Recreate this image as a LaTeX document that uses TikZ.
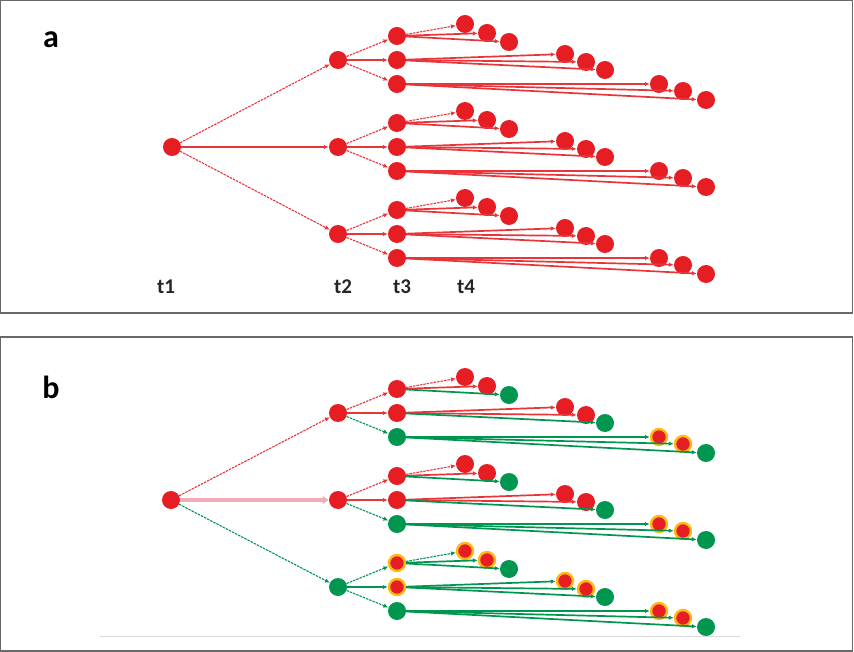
\documentclass[tikz,border=0pt]{standalone}
\usepackage{fontspec}
\setmainfont{Carlito}
\usetikzlibrary{arrows.meta}
\definecolor{nred}{RGB}{230,30,36}
\definecolor{ngreen}{RGB}{0,150,80}
\definecolor{haloc}{RGB}{255,185,20}
\definecolor{pinkl}{RGB}{242,172,182}
\definecolor{framec}{RGB}{105,105,105}
\tikzset{
  nd/.style={circle,inner sep=0pt,minimum size=18pt},
  rn/.style={nd,fill=nred},
  gn/.style={nd,fill=ngreen},
  hn/.style={nd,fill=nred,draw=haloc,line width=2.4pt,minimum size=16pt},
  ed/.style={line width=1.1pt,-{Latex[length=5pt,width=4.5pt]}},
  ch/.style={line width=1.7pt},
  rn-e/.style={ed,draw=nred!90},
  gn-e/.style={ed,draw=ngreen},
  hn-e/.style={ed,draw=ngreen},
  dg/.style={dash pattern=on 2.5pt off 1pt},
  pk-e/.style={line width=4.5pt,draw=pinkl,-{Latex[length=6pt,width=9pt]}},
  frame/.style={draw=framec,line width=1.4pt},
  plabel/.style={font=\bfseries\fontsize{32}{36}\selectfont,anchor=base},
  tlabel/.style={font=\bfseries\fontsize{21}{24}\selectfont,anchor=base,text=black!85},
}
% #1 name, #2 Y, #3 t2 style, #4-#6 t3 styles, #7-#9 styles of first two nodes of each chain
\newcommand\mkgroup[9]{%
  \node[#3] (#1) at (338,#2) {};
  \node[#4] (#1-1) at (397,#2-24) {};
  \node[#5] (#1-2) at (397,#2) {};
  \node[#6] (#1-3) at (397,#2+24) {};
  % chain 1
  \node[#7] (#1-1-1) at (465,#2-36) {};
  \node[#7] (#1-1-2) at (487,#2-27) {};
  \node[#6] (#1-1-3) at (509,#2-18) {};
  % chain 2
  \node[#8] (#1-2-1) at (565,#2-6) {};
  \node[#8] (#1-2-2) at (586,#2+2) {};
  \node[#6] (#1-2-3) at (605,#2+10) {};
  % chain 3
  \node[#9] (#1-3-1) at (659,#2+24) {};
  \node[#9] (#1-3-2) at (683,#2+31) {};
  \node[#6] (#1-3-3) at (706,#2+40) {};
  % t2 -> t3
  \draw[#4-e,dg] (#1) -- (#1-1);
  \draw[#5-e] (#1) -- (#1-2);
  \draw[#6-e,dg] (#1) -- (#1-3);
  % t3 -> chains
  \draw[#7-e,dg] (#1-1) -- (#1-1-1);
  \draw[#7-e,ch] (#1-1) -- (#1-1-2);
  \draw[#6-e,ch] (#1-1) -- (#1-1-3);
  \draw[#8-e,ch] (#1-2) -- (#1-2-1);
  \draw[#8-e,ch] (#1-2) -- (#1-2-2);
  \draw[#6-e,ch] (#1-2) -- (#1-2-3);
  \draw[#9-e,ch] (#1-3) -- (#1-3-1);
  \draw[#9-e,ch] (#1-3) -- (#1-3-2);
  \draw[#6-e,ch] (#1-3) -- (#1-3-3);
}
\begin{document}
\begin{tikzpicture}[x=1pt,y=-1pt]
\useasboundingbox (0,0) rectangle (854,652);
\draw[frame] (0.7,0.7) rectangle (852.5,313);
\draw[frame] (0.7,337) rectangle (852.5,650.8);
\node[plabel] (la) at (51,48) {a};
\node[plabel] (lb) at (51,398) {b};
\node[tlabel] (t1) at (166,294) {t1};
\node[tlabel] (t2) at (343,294) {t2};
\node[tlabel] (t3) at (402,294) {t3};
\node[tlabel] (t4) at (466,294) {t4};
% panel a
\node[rn] (ar) at (172,147) {};
\mkgroup{aA}{60}{rn}{rn}{rn}{rn}{rn}{rn}{rn}
\mkgroup{aB}{147}{rn}{rn}{rn}{rn}{rn}{rn}{rn}
\mkgroup{aC}{234}{rn}{rn}{rn}{rn}{rn}{rn}{rn}
\draw[rn-e,dg] (ar) -- (aA);
\draw[rn-e] (ar) -- (aB);
\draw[rn-e,dg] (ar) -- (aC);
% panel b
\node[rn] (br) at (171,500) {};
\mkgroup{bA}{413}{rn}{rn}{rn}{gn}{rn}{rn}{hn}
\mkgroup{bB}{500}{rn}{rn}{rn}{gn}{rn}{rn}{hn}
\mkgroup{bC}{587}{gn}{hn}{hn}{gn}{hn}{hn}{hn}
\draw[rn-e,dg] (br) -- (bA);
\draw[pk-e] (br) -- (bB);
\draw[gn-e,dg] (br) -- (bC);
\coordinate (fl1) at (100,636);
\coordinate (fl2) at (740,636);
\draw[black!15,line width=0.8pt] (fl1) -- (fl2);
\end{tikzpicture}
\end{document}
